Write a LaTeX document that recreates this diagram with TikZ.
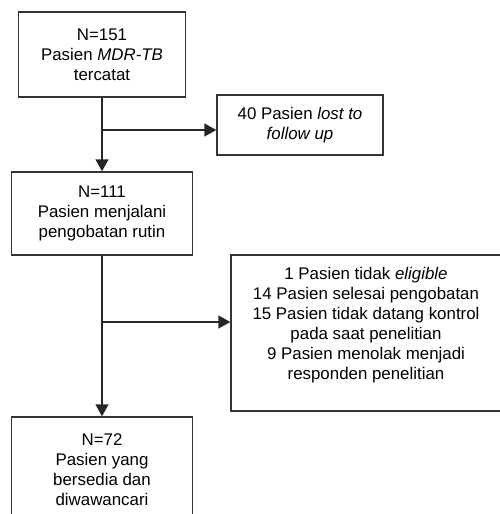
\documentclass[tikz,border=0pt]{standalone}
\usepackage{fontspec}
\setmainfont{Liberation Sans}
\usetikzlibrary{arrows.meta, positioning, calc}

\begin{document}
\begin{tikzpicture}[
        box/.style={draw=black!80, line width=0.8pt, align=center, inner sep=0pt,
                    font=\fontsize{9.6}{11.4}\selectfont},
        flow/.style={draw=black!85, line width=0.8pt,
                     -{Triangle[length=0.24cm, width=0.26cm]}}
    ]
\useasboundingbox (0,0) rectangle (10,-10.28);

% Main column
\node[box, minimum width=3.34cm, minimum height=1.70cm] (A) at (2.04,-1.09)
    {N=151\\Pasien \textit{MDR-TB}\\tercatat};
\node[box, minimum width=3.62cm, minimum height=1.66cm] (B) at (2.04,-4.27)
    {N=111\\Pasien menjalani\\pengobatan rutin};
\node[box, minimum width=3.62cm, minimum height=2.12cm] (E) at (2.04,-9.40)
    {N=72\\Pasien yang\\bersedia dan\\diwawancari};

% Excluded patients
\node[box, minimum width=3.32cm, minimum height=1.20cm] (C) at (6.00,-2.50)
    {40 Pasien \textit{lost to}\\\textit{follow up}};
\node[box, minimum width=5.56cm, minimum height=3.12cm] (D) at (7.40,-6.66) {};
\node[box, draw=none, anchor=north] (Dtext) at ($(D.north)+(-0.08,-0.24)$)
    {1 Pasien tidak \textit{eligible}\\14 Pasien selesai pengobatan\\15 Pasien tidak datang kontrol\\pada saat penelitian\\9 Pasien menolak menjadi\\responden penelitian};

% Branch points
\coordinate (br1) at (A.south |- 0,-2.60);
\coordinate (br2) at (B.south |- 0,-6.44);

% Connectors
\draw[flow] (A.south) -- (A.south |- B.north);
\draw[flow] (br1) -- (br1 -| C.west);
\draw[flow] (B.south) -- (B.south |- E.north);
\draw[flow] (br2) -- (br2 -| D.west);
\end{tikzpicture}
\end{document}
